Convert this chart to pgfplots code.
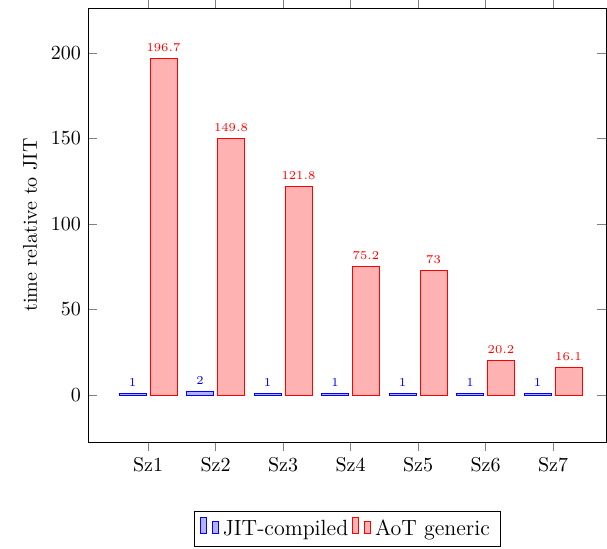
\documentclass[border=0pt]{standalone}
\usepackage{pgfplots}
\pgfplotsset{compat=1.18}
\begin{document}
\begin{tikzpicture}
\begin{axis}[
  name=ax,
  scale only axis,
  width=259pt, height=217pt,
  ybar=2pt, bar width=13.5pt,
  xmin=0.111, xmax=7.785,
  ymin=-27.5, ymax=226.3,
  xtick={1,2,3,4,5,6,7},
  xticklabels={Sz1,Sz2,Sz3,Sz4,Sz5,Sz6,Sz7},
  ytick={0,50,100,150,200},
  ylabel={time relative to JIT},
  nodes near coords,
  every node near coord/.append style={font=\ttfamily\fontsize{6.5}{7}\selectfont},
  legend style={at={(0.5,-0.16)}, anchor=north, legend columns=-1, font=\fontsize{11}{13}\selectfont},
]
\addplot[blue, fill=blue!30] coordinates {(1,1) (2,2) (3,1) (4,1) (5,1) (6,1) (7,1)};
\addplot[red, fill=red!30] coordinates {(1,196.7) (2,149.8) (3,121.8) (4,75.2) (5,73) (6,20.2) (7,16.1)};
\legend{JIT-compiled, AoT generic}
\end{axis}
\pgfresetboundingbox
\clip ([shift={(-44pt,-53pt)}]ax.south west) rectangle ([shift={(259.5pt,221pt)}]ax.south west);
\end{tikzpicture}
\end{document}
